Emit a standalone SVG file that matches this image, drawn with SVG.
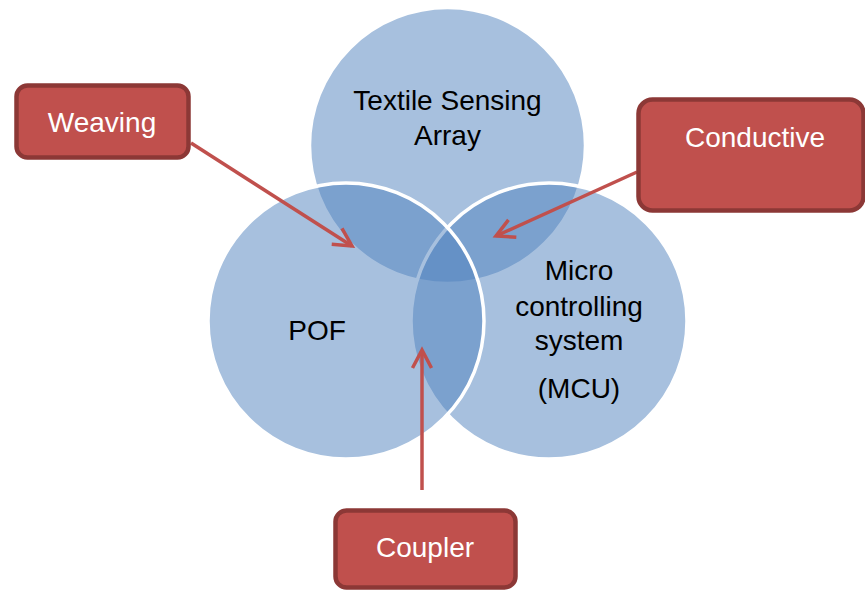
<svg xmlns="http://www.w3.org/2000/svg" width="865" height="591" viewBox="0 0 865 591">
<style>
.venn{fill:#4F81BD;fill-opacity:0.5;stroke:#FFFFFF;stroke-width:3.5}
.lbl{font-family:"Liberation Sans",Arial,sans-serif;font-size:28px;fill:#000000;text-anchor:middle}
.box{fill:#C0504D;stroke:#8C3836;stroke-width:4.5}
.btxt{font-family:"Liberation Sans",Arial,sans-serif;font-size:28px;fill:#FFFFFF;text-anchor:middle}
.conn{fill:none;stroke:#C0504D;stroke-width:3.5}
</style>
<defs>
<marker id="arr" markerUnits="userSpaceOnUse" viewBox="-24 -14 28 28" markerWidth="28" markerHeight="28" refX="0" refY="0" orient="auto">
<path d="M-18,-9.5 L0,0 L-18,9.5" fill="none" stroke="#C0504D" stroke-width="3.5" stroke-linejoin="miter"/>
</marker>
</defs>
<rect width="865" height="591" fill="#FFFFFF"/>
<g id="circle-textile">
<circle class="venn" cx="447.5" cy="145.5" r="138"/>
</g>
<g id="circle-mcu">
<circle class="venn" cx="549" cy="321" r="138"/>
</g>
<g id="circle-pof">
<circle class="venn" cx="346" cy="321" r="138"/>
</g>
<g id="labels">
<text class="lbl" x="447.5" y="110">Textile Sensing</text>
<text class="lbl" x="447.5" y="145">Array</text>
<text class="lbl" x="317" y="340">POF</text>
<text class="lbl" x="579" y="280">Micro</text>
<text class="lbl" x="579" y="316">controlling</text>
<text class="lbl" x="579" y="350">system</text>
<text class="lbl" x="579" y="398">(MCU)</text>
</g>
<g id="connectors">
<line class="conn" x1="191" y1="143" x2="352" y2="246" marker-end="url(#arr)"/>
<line class="conn" x1="637" y1="172" x2="496" y2="236" marker-end="url(#arr)"/>
<line class="conn" x1="422" y1="490" x2="422" y2="350" marker-end="url(#arr)"/>
</g>
<g id="box-weaving">
<rect class="box" x="16.5" y="85.5" width="172" height="72" rx="11"/>
<text class="btxt" x="102" y="132">Weaving</text>
</g>
<g id="box-conductive">
<rect class="box" x="638.5" y="99.5" width="225" height="111" rx="14"/>
<text class="btxt" x="755" y="147">Conductive</text>
</g>
<g id="box-coupler">
<rect class="box" x="335.5" y="510.5" width="180" height="77" rx="11"/>
<text class="btxt" x="425" y="557">Coupler</text>
</g>
</svg>
